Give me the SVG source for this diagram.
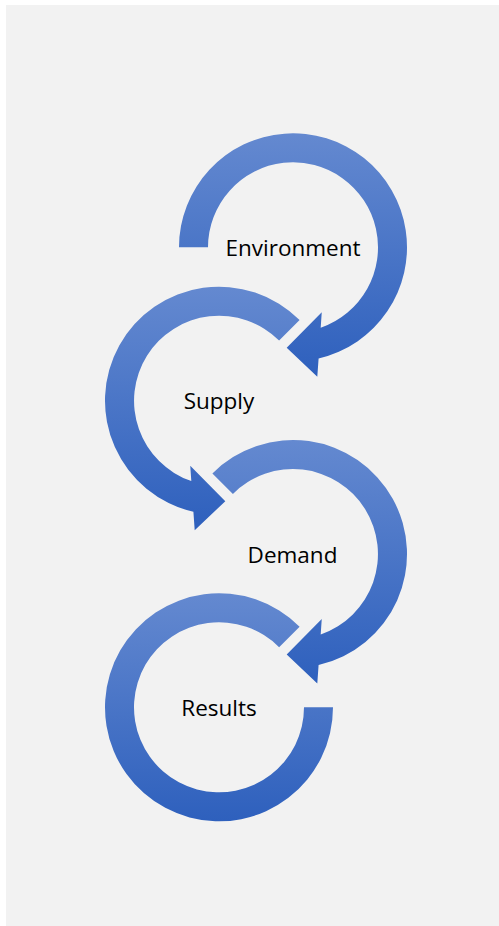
<svg xmlns="http://www.w3.org/2000/svg" width="499" height="926" viewBox="0 0 499 926">
  <defs>
    <linearGradient id="blueGrad" x1="0" y1="0" x2="0" y2="1">
      <stop offset="0" stop-color="#6489d0"/>
      <stop offset="1" stop-color="#2e60bd"/>
    </linearGradient>
    <style>
      .arc { fill: url(#blueGrad); stroke: none; }
      .label { font-family: "Open Sans", "Noto Sans", "Liberation Sans", sans-serif; font-size: 22.5px; fill: #000000; text-anchor: middle; }
    </style>
  </defs>
  <rect x="0" y="0" width="499" height="926" fill="#ffffff"/>
  <rect x="6" y="5" width="493" height="921" fill="#f2f2f2"/>

  <g id="environment">
    <path class="arc" d="M179,247.3 A114,114 0 1 1 318.6,358.4 L317.3,376.8 L286.7,347.8 L321.75,312.35 L320.7,327.7 A85,85 0 1 0 208,247.3 Z"/>
    <text class="label" x="293" y="255.5">Environment</text>
  </g>

  <g id="supply">
    <path class="arc" d="M299.6,320.1 A114,114 0 1 0 193.4,511.8 L194.7,530.2 L225.3,501.2 L190.25,465.75 L191.3,481.1 A85,85 0 1 1 279.1,340.6 Z"/>
    <text class="label" x="219" y="409.2">Supply</text>
  </g>

  <g id="demand">
    <path class="arc" d="M212.4,473.4 A114,114 0 1 1 318.6,665.1 L317.3,683.5 L286.7,654.5 L321.75,619.05 L320.7,634.4 A85,85 0 1 0 232.9,493.9 Z"/>
    <text class="label" x="292.5" y="562.6">Demand</text>
  </g>

  <g id="results">
    <path class="arc" d="M299.6,626.7 A114,114 0 1 0 333,707.3 L304,707.3 A85,85 0 1 1 279.1,647.2 Z"/>
    <text class="label" x="219" y="715.7">Results</text>
  </g>

  <g id="connectors"/>
</svg>
